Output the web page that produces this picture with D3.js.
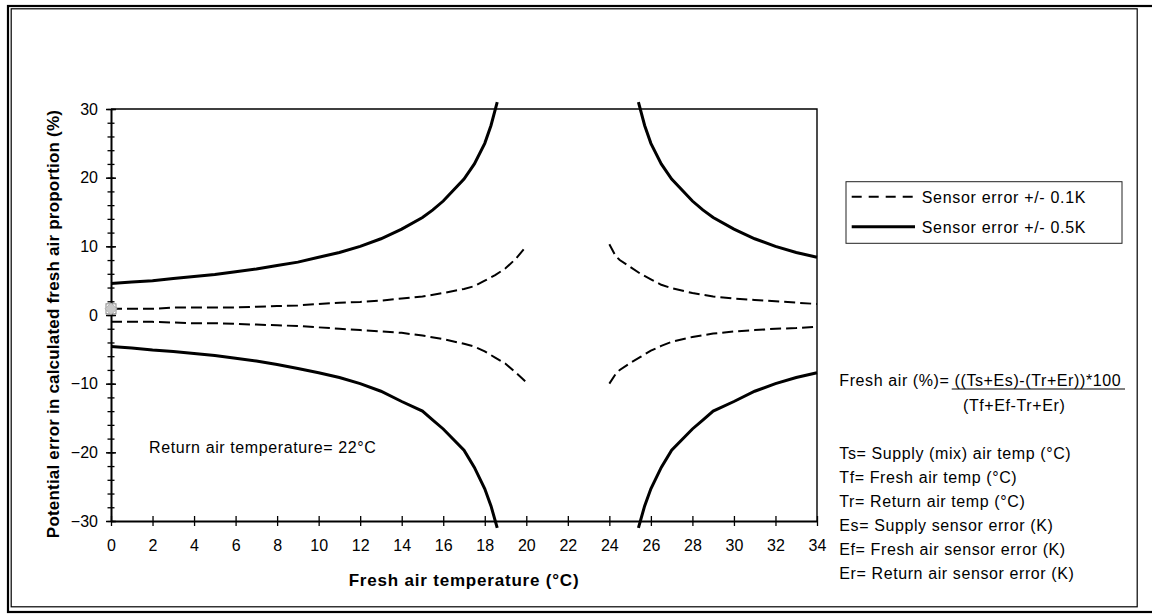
<!DOCTYPE html>
<meta charset="utf-8">
<body style="margin:0;background:#fff">
<svg id="chart" width="1152" height="616"></svg>

<style>
    text { font-family: "Liberation Sans", Arial, sans-serif; fill: #000; }
    .tick text { font-size: 16px; }
</style>

<script src="https://d3js.org/d3.v7.min.js"></script>
<script>
    // values (fresh air temp in °C, error in %)
    const solidLeftX   = [0, 1, 2, 3, 4, 5, 6, 7, 8, 9, 10, 11, 12, 13, 14, 15, 15.5, 16, 17, 17.5, 18, 18.3, 18.6];
    const solidLeftUp  = [4.6, 4.8, 5.0, 5.3, 5.6, 5.9, 6.3, 6.7, 7.2, 7.7, 8.4, 9.1, 10.0, 11.1, 12.5, 14.2, 15.3, 16.6, 19.8, 22.0, 25.0, 27.6, 31.0];
    const solidLeftLo  = [-4.6, -4.8, -5.1, -5.3, -5.6, -5.9, -6.3, -6.7, -7.2, -7.8, -8.4, -9.1, -10.0, -11.1, -12.6, -14.0, -15.3, -16.6, -19.7, -22.2, -25.3, -27.8, -31.0];
    const solidRightX  = [25.4, 25.7, 26, 26.5, 27, 28, 28.5, 29, 30, 31, 32, 33, 34];
    const solidRightUp = [31.0, 27.6, 25.0, 22.0, 19.8, 16.6, 15.3, 14.2, 12.5, 11.1, 10.0, 9.1, 8.4];
    const solidRightLo = [-31.0, -27.8, -25.3, -22.2, -19.7, -16.6, -15.3, -14.0, -12.6, -11.1, -10.0, -9.1, -8.4];

    const dashLeftX   = [0, 1, 2, 3, 4, 5, 6, 7, 8, 9, 10, 11, 12, 13, 14, 15, 16, 17, 17.5, 18, 18.5, 19, 19.5, 20];
    const dashLeftUp  = [0.9, 0.9, 0.9, 1.1, 1.1, 1.1, 1.1, 1.2, 1.3, 1.4, 1.6, 1.8, 1.9, 2.1, 2.4, 2.7, 3.2, 3.8, 4.2, 5.0, 5.8, 6.8, 8.2, 10.0];
    const dashLeftLo  = [-1.0, -1.0, -1.0, -1.1, -1.2, -1.2, -1.3, -1.4, -1.5, -1.6, -1.8, -2.0, -2.2, -2.4, -2.6, -3.0, -3.5, -4.2, -4.6, -5.3, -6.2, -7.1, -8.4, -9.8];
    const dashRightX  = [24, 24.3, 24.5, 25, 25.5, 26, 26.5, 27, 28, 29, 30, 31, 32, 33, 34];
    const dashRightUp = [10.3, 8.6, 8.0, 7.0, 6.0, 5.2, 4.4, 3.9, 3.2, 2.7, 2.4, 2.2, 2.0, 1.8, 1.6];
    const dashRightLo = [-10.0, -8.6, -8.0, -7.0, -6.1, -5.2, -4.5, -3.9, -3.2, -2.7, -2.4, -2.2, -2.0, -1.9, -1.7];

    const markerPoint = [0, 0.9];

    const xTicks = d3.range(0, 35, 2);
    const yMajor = [-30, -20, -10, 0, 10, 20, 30];
    const yMinor = d3.range(-30, 31, 2);

    const legendLabels = ["Sensor error +/- 0.1K", "Sensor error +/- 0.5K"];
    const noteLines = [
        "Ts= Supply (mix) air temp (°C)",
        "Tf= Fresh air temp (°C)",
        "Tr= Return air temp (°C)",
        "Es= Supply sensor error (K)",
        "Ef= Fresh air sensor error (K)",
        "Er= Return air sensor error (K)"
    ];

    const svg = d3.select("#chart");

    // outer double frame
    svg.append("rect").attr("x", 8).attr("y", 6).attr("width", 1160).attr("height", 606)
        .attr("fill", "none").attr("stroke", "#000").attr("stroke-width", 2.2);
    svg.append("rect").attr("x", 11.2).attr("y", 8.8).attr("width", 1126).attr("height", 598)
        .attr("fill", "none").attr("stroke", "#000").attr("stroke-width", 1.2);

    const x = d3.scaleLinear().domain([0, 34]).range([111, 817]);
    const y = d3.scaleLinear().domain([-30, 30]).range([521, 109]);

    // plot area border (top / right)
    svg.append("path")
        .attr("d", `M${x(0)},${y(30)}H${x(34)}V${y(-30)}`)
        .attr("fill", "none").attr("stroke", "#000").attr("stroke-width", 1.4);

    // minor y ticks
    svg.append("g")
        .attr("transform", `translate(${x(0)},0)`)
        .call(d3.axisLeft(y).tickValues(yMinor).tickSize(3.5).tickFormat(""))
        .call(g => g.select(".domain").remove())
        .call(g => g.selectAll(".tick line").attr("x1", 3.5).attr("stroke-width", 1.3));

    // y axis
    svg.append("g")
        .attr("transform", `translate(${x(0)},0)`)
        .call(d3.axisLeft(y).tickValues(yMajor).tickSize(5).tickSizeOuter(0).tickPadding(8))
        .call(g => g.select(".domain").attr("stroke-width", 2))
        .call(g => g.selectAll(".tick line").attr("x1", 5).attr("stroke-width", 1.5));

    // x axis
    svg.append("g")
        .attr("transform", `translate(0,${y(-30)})`)
        .call(d3.axisBottom(x).tickValues(xTicks).tickSize(5).tickSizeOuter(0))
        .call(g => g.select(".domain").attr("stroke-width", 2))
        .call(g => g.selectAll(".tick line").attr("y1", -5).attr("stroke-width", 1.3))
        .call(g => g.selectAll(".tick text").attr("y", 30).attr("dy", null));

    // axis titles
    svg.append("text")
        .attr("transform", `translate(59,${(y(30) + y(-30)) / 2 + 9}) rotate(-90)`)
        .attr("text-anchor", "middle")
        .style("font-size", "17px").style("font-weight", "bold").style("letter-spacing", "0.2px")
        .text("Potential error in calculated fresh air proportion (%)");

    svg.append("text")
        .attr("x", (x(0) + x(34)) / 2).attr("y", 586)
        .attr("text-anchor", "middle")
        .style("font-size", "17px").style("font-weight", "bold").style("letter-spacing", "0.8px")
        .text("Fresh air temperature (°C)");

    // curves
    const line = d3.line().x(d => x(d[0])).y(d => y(d[1]));
    const pair = (xs, ys) => xs.map((v, i) => [v, ys[i]]);

    const curves = [
        {pts: pair(dashLeftX, dashLeftUp), dash: true},
        {pts: pair(dashLeftX, dashLeftLo), dash: true},
        {pts: pair(dashRightX, dashRightUp), dash: true},
        {pts: pair(dashRightX, dashRightLo), dash: true},
        {pts: pair(solidLeftX, solidLeftUp), dash: false},
        {pts: pair(solidLeftX, solidLeftLo), dash: false},
        {pts: pair(solidRightX, solidRightUp), dash: false},
        {pts: pair(solidRightX, solidRightLo), dash: false}
    ];

    svg.append("g").selectAll("path")
        .data(curves).enter()
        .append("path")
        .attr("d", d => line(d.pts))
        .attr("fill", "none")
        .attr("stroke", "#000")
        .attr("stroke-width", d => d.dash ? 2 : 3)
        .attr("stroke-dasharray", d => d.dash ? "11,5" : null);

    // grey marker at origin
    const mx = x(markerPoint[0]), my = y(markerPoint[1]);
    svg.append("rect").attr("x", mx - 5).attr("y", my - 5).attr("width", 10).attr("height", 10)
        .attr("fill", "none").attr("stroke", "#888").attr("stroke-width", 1);
    svg.append("path")
        .attr("d", `M${mx},${my - 6}L${mx + 6},${my}L${mx},${my + 6}L${mx - 6},${my}Z`)
        .attr("fill", "#c8c8c8").attr("stroke", "#aaa").attr("stroke-width", 0.8);

    // legend
    const lg = svg.append("g");
    lg.append("rect").attr("x", 846).attr("y", 181.7).attr("width", 276).attr("height", 61.6)
        .attr("fill", "#fff").attr("stroke", "#222").attr("stroke-width", 1);
    legendLabels.forEach((t, i) => {
        const ly = 196.7 + i * 30;
        lg.append("line").attr("x1", 851.7).attr("x2", 915).attr("y1", ly).attr("y2", ly)
            .attr("stroke", "#000").attr("stroke-width", i === 0 ? 2 : 3)
            .attr("stroke-dasharray", i === 0 ? "10,7" : null);
        lg.append("text").attr("x", 921.7).attr("y", ly + 5.8)
            .style("font-size", "16px").style("letter-spacing", "0.7px").text(t);
    });

    // formula
    svg.append("text").attr("x", 839.3).attr("y", 386)
        .style("font-size", "16px").style("letter-spacing", "0.6px")
        .text("Fresh air (%)= ((Ts+Es)-(Tr+Er))*100");
    svg.append("line").attr("x1", 951.7).attr("x2", 1125).attr("y1", 389).attr("y2", 389)
        .attr("stroke", "#000").attr("stroke-width", 1.2);
    svg.append("text").attr("x", 963).attr("y", 411)
        .style("font-size", "16px").style("letter-spacing", "0.6px")
        .text("(Tf+Ef-Tr+Er)");

    svg.append("g").selectAll("text")
        .data(noteLines).enter()
        .append("text")
        .attr("x", 839.3)
        .attr("y", (d, i) => 458.5 + i * 24)
        .style("font-size", "16px").style("letter-spacing", "0.6px")
        .text(d => d);

    svg.append("text").attr("x", 149).attr("y", 452.5)
        .style("font-size", "16px").style("letter-spacing", "0.6px")
        .text("Return air temperature= 22°C");
</script>
</body>
